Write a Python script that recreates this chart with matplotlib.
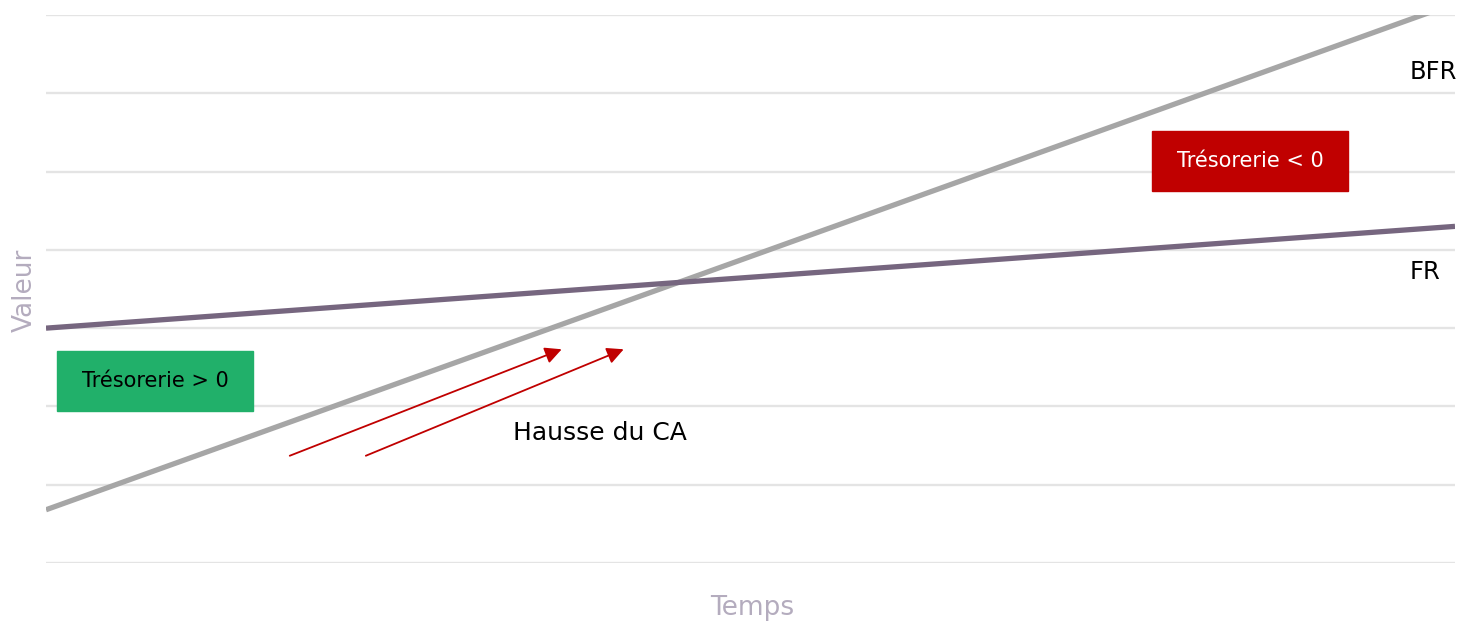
import matplotlib.pyplot as plt
from matplotlib.patches import Rectangle

# -----------------------------------
# Data
# -----------------------------------
temps = [0.0, 1.0]
bfr = [0.68, 7.15]
fr = [3.0, 4.3]

grid_levels = [0, 1, 2, 3, 4, 5, 6, 7]

# arrows "Hausse du CA": (x_start, y_start, x_end, y_end)
arrows = [
    (0.173, 1.37, 0.366, 2.73),
    (0.227, 1.37, 0.410, 2.73),
]

# boxes: (x0, y0, width, height, label)
box_pos = (0.008, 1.94, 0.139, 0.77, "Trésorerie > 0")
box_neg = (0.785, 4.75, 0.139, 0.77, "Trésorerie < 0")

FONT = "DejaVu Sans"

# -----------------------------------
# Figure
# -----------------------------------
fig = plt.figure(figsize=(14.58, 6.22), dpi=100)
ax = fig.add_axes([46 / 1458, 59 / 622, 1409 / 1458, 548 / 622])
ax.set_xlim(0, 1)
ax.set_ylim(0, 7)

for g in grid_levels:
    ax.axhline(g, color="#E4E4E4", lw=1.7, zorder=0)

ax.plot(temps, bfr, color="#A6A6A6", lw=3.8, solid_capstyle="butt", zorder=2)
ax.plot(temps, fr, color="#76667F", lw=3.8, solid_capstyle="butt", zorder=2)

for x0, y0, x1, y1 in arrows:
    ax.annotate("", xy=(x1, y1), xytext=(x0, y0),
                arrowprops=dict(arrowstyle="-|>", color="#C00000", lw=1.3,
                                mutation_scale=25, shrinkA=0, shrinkB=0))

x, y, w, h, lab = box_pos
ax.add_patch(Rectangle((x, y), w, h, color="#21B06A", zorder=3))
ax.text(x + w / 2, y + h / 2, lab, ha="center", va="center",
        fontsize=15, color="black", family=FONT, zorder=4)

x, y, w, h, lab = box_neg
ax.add_patch(Rectangle((x, y), w, h, color="#C00000", zorder=3))
ax.text(x + w / 2, y + h / 2, lab, ha="center", va="center",
        fontsize=15, color="white", family=FONT, zorder=4)

ax.text(0.968, 6.27, "BFR", ha="left", va="center", fontsize=17.5,
        family=FONT, clip_on=False)
ax.text(0.968, 3.72, "FR", ha="left", va="center", fontsize=17.5,
        family=FONT, clip_on=False)
ax.text(0.3314, 1.66, "Hausse du CA", ha="left", va="center", fontsize=18,
        family=FONT)

fig.text(25 / 1458, 1 - 290 / 622, "Valeur", rotation=90, ha="center",
         va="center", fontsize=19, color="#B4ACBE", family=FONT)
fig.text(752 / 1458, 1 - 608 / 622, "Temps", ha="center", va="center",
         fontsize=19, color="#B4ACBE", family=FONT)

for s in ax.spines.values():
    s.set_visible(False)
ax.set_xticks([])
ax.set_yticks([])

fig.savefig("out.png", dpi=100)
